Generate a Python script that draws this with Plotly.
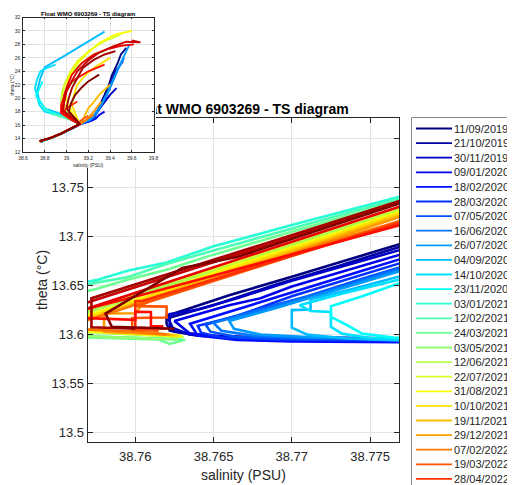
import plotly.graph_objects as go

# ---------------- data ----------------
DATES = ["11/09/2019", "21/10/2019", "30/11/2019", "09/01/2020", "18/02/2020",
         "28/03/2020", "07/05/2020", "16/06/2020", "26/07/2020", "04/09/2020",
         "14/10/2020", "23/11/2020", "03/01/2021", "12/02/2021", "24/03/2021",
         "03/05/2021", "12/06/2021", "22/07/2021", "31/08/2021", "10/10/2021",
         "19/11/2021", "29/12/2021", "07/02/2022", "19/03/2022", "28/04/2022",
         "07/06/2022", "17/07/2022", "26/08/2022", "05/10/2022", "14/11/2022"]

S_00 = [38.7805, 38.7740, 38.7680, 38.7640, 38.7622, 38.7620, 38.7620, 38.7660, 38.7700, 38.7740, 38.7800, 38.8450, 38.9480, 39.0520, 39.1250, 39.2000, 39.2400, 39.2800, 39.3200, 39.3500, 39.3900, 39.4200, 39.4700, 39.5000, 39.5500]
T_00 = [13.5925, 13.5935, 13.5955, 13.5990, 13.6040, 13.6110, 13.6190, 13.6400, 13.6590, 13.6790, 13.7105, 14.0200, 14.7000, 15.5000, 16.2000, 16.8000, 17.2000, 18.0000, 19.3000, 20.5000, 22.0000, 23.5000, 25.2000, 26.5000, 27.5000]
S_01 = [38.7810, 38.7750, 38.7700, 38.7650, 38.7625, 38.7621, 38.7650, 38.7690, 38.7730, 38.7770, 38.7810, 38.8480, 38.9500, 39.0500, 39.1280, 39.2200, 39.2600, 39.3000, 39.3500, 39.3800, 39.4200, 39.4500, 39.5200]
T_01 = [13.5940, 13.5950, 13.5960, 13.5985, 13.6030, 13.6170, 13.6300, 13.6510, 13.6700, 13.6900, 13.7100, 14.0300, 14.7100, 15.4900, 16.2200, 16.9000, 17.6000, 18.5000, 19.6000, 21.0000, 22.8000, 24.0000, 25.5000]
S_02 = [38.7800, 38.7720, 38.7670, 38.7635, 38.7622, 38.7622, 38.7640, 38.7665, 38.7700, 38.7740, 38.7800, 38.8460, 38.9470, 39.0480, 39.1300, 39.2300, 39.2700, 39.3200, 39.3700, 39.4000, 39.4600]
T_02 = [13.5960, 13.5965, 13.5975, 13.6000, 13.6080, 13.6210, 13.6255, 13.6370, 13.6550, 13.6730, 13.6990, 14.0000, 14.6800, 15.4700, 16.2300, 16.8000, 17.7000, 18.8000, 19.8000, 20.5000, 21.5000]
S_03 = [38.7815, 38.7760, 38.7700, 38.7660, 38.7635, 38.7625, 38.7660, 38.7680, 38.7700, 38.7740, 38.7800, 38.8470, 38.9490, 39.0510, 39.1320, 39.2400, 39.2700, 39.3000, 39.3500]
T_03 = [13.5930, 13.5930, 13.5945, 13.5965, 13.6010, 13.6140, 13.6300, 13.6370, 13.6490, 13.6680, 13.6960, 14.0100, 14.6900, 15.4800, 16.2000, 16.7000, 17.0000, 17.5000, 18.0000]
S_04 = [38.7810, 38.7750, 38.7700, 38.7665, 38.7640, 38.7635, 38.7670, 38.7710, 38.7745, 38.7800, 38.8490, 38.9500, 39.0500, 39.1300, 39.2200, 39.2500, 39.2800]
T_04 = [13.5920, 13.5925, 13.5930, 13.5945, 13.5990, 13.6110, 13.6280, 13.6480, 13.6650, 13.6920, 14.0300, 14.7000, 15.4800, 16.1800, 16.6000, 17.0000, 17.2000]
S_05 = [38.7800, 38.7740, 38.7690, 38.7655, 38.7642, 38.7640, 38.7665, 38.7700, 38.7740, 38.7800, 38.8480, 38.9510, 39.0490, 39.1250, 39.2000, 39.2200, 39.2400]
T_05 = [13.5935, 13.5940, 13.5950, 13.5970, 13.6020, 13.6090, 13.6190, 13.6390, 13.6580, 13.6880, 14.0200, 14.7100, 15.4900, 16.1500, 16.5000, 16.9000, 17.1000]
S_06 = [38.7805, 38.7750, 38.7700, 38.7665, 38.7648, 38.7645, 38.7675, 38.7710, 38.7745, 38.7805, 38.8470, 38.9490, 39.0510, 39.1280, 39.2200, 39.2500, 39.2800, 39.3100, 39.3400, 39.4000]
T_06 = [13.5945, 13.5950, 13.5955, 13.5975, 13.6030, 13.6100, 13.6240, 13.6390, 13.6570, 13.6855, 14.0100, 14.7000, 15.5000, 16.2100, 16.8000, 17.1000, 17.8000, 18.6000, 19.5000, 21.5000]
S_07 = [38.7810, 38.7760, 38.7710, 38.7675, 38.7655, 38.7650, 38.7685, 38.7720, 38.7750, 38.7810, 38.8460, 38.9480, 39.0500, 39.1300, 39.2300, 39.2600, 39.3000, 39.3600, 39.4000, 39.4400, 39.4800, 39.5300]
T_07 = [13.5950, 13.5955, 13.5965, 13.5990, 13.6040, 13.6120, 13.6270, 13.6430, 13.6570, 13.6840, 14.0000, 14.6900, 15.4800, 16.2300, 16.9000, 17.5000, 18.5000, 20.2000, 21.5000, 23.0000, 24.5000, 26.0000]
S_08 = [38.7800, 38.7750, 38.7710, 38.7680, 38.7663, 38.7660, 38.7690, 38.7725, 38.7755, 38.7810, 38.8470, 38.9500, 39.0520, 39.1310, 39.2200, 39.2700, 39.3200, 39.3700, 39.4200, 39.4700, 39.5200, 39.5800]
T_08 = [13.5955, 13.5960, 13.5975, 13.6000, 13.6060, 13.6140, 13.6270, 13.6430, 13.6560, 13.6800, 14.0000, 14.7000, 15.5100, 16.2200, 16.8000, 17.8000, 19.0000, 20.6000, 22.5000, 24.3000, 26.0000, 28.0000]
S_09 = [38.7810, 38.7770, 38.7735, 38.7710, 38.7700, 38.7700, 38.7712, 38.7712, 38.7740, 38.7770, 38.7810, 38.8500, 38.9500, 39.0450, 39.1100, 39.1000, 38.9500, 38.8000, 38.7500, 38.7300, 38.7600, 38.8000, 38.9500, 39.1000, 39.3500]
T_09 = [13.5935, 13.5940, 13.5960, 13.6000, 13.6070, 13.6250, 13.6255, 13.6360, 13.6470, 13.6590, 13.6770, 14.0200, 14.6800, 15.4500, 16.1000, 16.8000, 17.6000, 18.5000, 19.6000, 21.0000, 23.0000, 24.6000, 26.0000, 27.5000, 29.9000]
S_10 = [38.7815, 38.7780, 38.7750, 38.7732, 38.7725, 38.7725, 38.7712, 38.7705, 38.7730, 38.7770, 38.7815, 38.8520, 38.9520, 39.0480, 39.1150, 39.0500, 38.9000, 38.8000, 38.7500, 38.7100, 38.7300, 38.7600, 38.8200, 38.9000]
T_10 = [13.5945, 13.5950, 13.5965, 13.6010, 13.6080, 13.6230, 13.6240, 13.6300, 13.6410, 13.6560, 13.6740, 14.0300, 14.6900, 15.4600, 16.1200, 16.9000, 17.5000, 18.0000, 19.0000, 21.5000, 22.8000, 24.0000, 24.5000, 25.0000]
S_11 = [38.7820, 38.7790, 38.7765, 38.7745, 38.7735, 38.7725, 38.7725, 38.7745, 38.7770, 38.7820, 38.8510, 38.9510, 39.0500, 39.1150, 39.0500, 38.8800, 38.8000, 38.7600, 38.7200, 38.7400, 38.7800]
T_11 = [13.5950, 13.5955, 13.5970, 13.6010, 13.6100, 13.6180, 13.6290, 13.6390, 13.6530, 13.6720, 14.0100, 14.6800, 15.4700, 16.1300, 16.8000, 17.8000, 18.4000, 19.5000, 20.3000, 21.0000, 22.5000]
S_12 = [38.7630, 38.7600, 38.7565, 38.7545, 38.7555, 38.7575, 38.7595, 38.7620, 38.7650, 38.7700, 38.7750, 38.7800, 38.8500, 38.9500, 39.0500, 39.1200, 39.0500, 38.9200, 38.8600, 38.8200, 38.7800]
T_12 = [13.5950, 13.5965, 13.5985, 13.6250, 13.6500, 13.6555, 13.6650, 13.6735, 13.6900, 13.7116, 13.7326, 13.7536, 14.0800, 14.7300, 15.5000, 16.1500, 16.7000, 17.5000, 17.7000, 18.2000, 18.8000]
S_13 = [38.7628, 38.7610, 38.7570, 38.7550, 38.7552, 38.7575, 38.7595, 38.7620, 38.7650, 38.7700, 38.7750, 38.7800, 38.8490, 38.9490, 39.0500, 39.1200, 39.0800, 38.9500, 38.8800]
T_13 = [13.5955, 13.5960, 13.5980, 13.6100, 13.6440, 13.6530, 13.6585, 13.6720, 13.6858, 13.7082, 13.7302, 13.7522, 14.0700, 14.7200, 15.5100, 16.1500, 16.6000, 17.2000, 17.6000]
S_14 = [38.7632, 38.7622, 38.7615, 38.7600, 38.7560, 38.7550, 38.7555, 38.7575, 38.7595, 38.7620, 38.7650, 38.7700, 38.7750, 38.7800, 38.8500, 38.9500, 39.0480, 39.1200, 39.0800, 39.0000, 38.9500]
T_14 = [13.5948, 13.5905, 13.5950, 13.5958, 13.5975, 13.6100, 13.6390, 13.6465, 13.6560, 13.6660, 13.6815, 13.7048, 13.7278, 13.7508, 14.0700, 14.7200, 15.4900, 16.1600, 16.7000, 17.3000, 17.8000]
S_15 = [38.7628, 38.7600, 38.7555, 38.7550, 38.7610, 38.7660, 38.7720, 38.7800, 38.8500, 38.9500, 39.0500, 39.1200, 39.0700, 38.9800, 38.9500, 38.9700, 39.0000, 39.1000]
T_15 = [13.5952, 13.5968, 13.5990, 13.6135, 13.6450, 13.6713, 13.7028, 13.7448, 14.0700, 14.7200, 15.5000, 16.1500, 16.8000, 18.0000, 19.5000, 20.4000, 21.5000, 23.0000]
S_16 = [38.7631, 38.7600, 38.7555, 38.7550, 38.7610, 38.7660, 38.7720, 38.7800, 38.8510, 38.9510, 39.0510, 39.1210, 39.0600, 38.9700, 38.9500, 38.9600, 39.0000, 39.0500, 39.1500, 39.2500, 39.3500]
T_16 = [13.5975, 13.6000, 13.6035, 13.6120, 13.6435, 13.6698, 13.7013, 13.7433, 14.0700, 14.7200, 15.5000, 16.1500, 16.9000, 18.5000, 19.8000, 21.0000, 22.6000, 24.0000, 25.4000, 26.5000, 27.0000]
S_17 = [38.7629, 38.7600, 38.7555, 38.7550, 38.7610, 38.7660, 38.7720, 38.7800, 38.8490, 38.9490, 39.0490, 39.1190, 39.0700, 38.9800, 38.9600, 38.9800, 39.0300, 39.1000, 39.2200, 39.3500, 39.5000]
T_17 = [13.5980, 13.6010, 13.6045, 13.6156, 13.6475, 13.6720, 13.7045, 13.7456, 14.0700, 14.7200, 15.5000, 16.1500, 17.0000, 19.0000, 20.5000, 22.0000, 23.8000, 25.5000, 27.2000, 28.5000, 29.5000]
S_18 = [38.7630, 38.7600, 38.7555, 38.7550, 38.7610, 38.7660, 38.7720, 38.7800, 38.8500, 38.9500, 39.0500, 39.1200, 39.0800, 39.0000, 38.9900, 39.0200, 39.0800, 39.1800, 39.3000, 39.4500, 39.6000]
T_18 = [13.5985, 13.6015, 13.6050, 13.6094, 13.6405, 13.6684, 13.6990, 13.7419, 14.0700, 14.7200, 15.5000, 16.1500, 17.0000, 19.5000, 21.0000, 23.0000, 24.8000, 26.5000, 28.2000, 29.5000, 30.0000]
S_19 = [38.7628, 38.7600, 38.7555, 38.7550, 38.7610, 38.7660, 38.7720, 38.7800, 38.8510, 38.9510, 39.0500, 39.1250, 39.1000, 39.0500, 39.0700, 39.1000, 39.1700, 39.2500, 39.4000]
T_19 = [13.5990, 13.6020, 13.6055, 13.6074, 13.6393, 13.6665, 13.6975, 13.7405, 14.0700, 14.7200, 15.5000, 16.1800, 16.9000, 19.0000, 20.6000, 22.0000, 23.4000, 24.5000, 26.0000]
S_20 = [38.7625, 38.7600, 38.7555, 38.7550, 38.7610, 38.7660, 38.7720, 38.7800, 38.8490, 38.9490, 39.0490, 39.1300, 39.1500, 39.2000, 39.2500, 39.3000, 39.4000]
T_20 = [13.5995, 13.6025, 13.6060, 13.6054, 13.6373, 13.6645, 13.6955, 13.7385, 14.0700, 14.7200, 15.5000, 16.2000, 16.8000, 18.5000, 19.4000, 20.5000, 22.0000]
S_21 = [38.7622, 38.7580, 38.7580, 38.7600, 38.7604, 38.7610, 38.7660, 38.7720, 38.7800, 38.8500, 38.9500, 39.0500, 39.1300, 39.1800, 39.2500, 39.3200]
T_21 = [13.6000, 13.6030, 13.6215, 13.6218, 13.6300, 13.6349, 13.6617, 13.6938, 13.7366, 14.0700, 14.7200, 15.5000, 16.2000, 16.7000, 18.0000, 19.5000]
S_22 = [38.7620, 38.7600, 38.7555, 38.7550, 38.7610, 38.7660, 38.7720, 38.7800, 38.8510, 38.9510, 39.0510, 39.1300, 39.1500, 39.2000, 39.2500]
T_22 = [13.6002, 13.6030, 13.6062, 13.6047, 13.6356, 13.6620, 13.6923, 13.7335, 14.0700, 14.7200, 15.5000, 16.2000, 16.5000, 17.0000, 17.5000]
S_23 = [38.7615, 38.7598, 38.7598, 38.7620, 38.7620, 38.7600, 38.7650, 38.7710, 38.7770, 38.7810, 38.8500, 38.9500, 39.0500, 39.1200, 39.1200, 39.1500, 39.2000]
T_23 = [13.6040, 13.6050, 13.6170, 13.6175, 13.6285, 13.6290, 13.6546, 13.6853, 13.7160, 13.7365, 14.0700, 14.7200, 15.5000, 16.1500, 16.5000, 16.9000, 17.4000]
S_24 = [38.7620, 38.7600, 38.7600, 38.7605, 38.7650, 38.7710, 38.7770, 38.7810, 38.8490, 38.9490, 39.0490, 39.1200, 39.0500, 38.9700, 38.9800, 39.0000, 39.1000]
T_24 = [13.6060, 13.6070, 13.6340, 13.6345, 13.6562, 13.6851, 13.7140, 13.7333, 14.0700, 14.7200, 15.5000, 16.1500, 16.7000, 17.6000, 18.0000, 18.5000, 19.5000]
S_25 = [38.7618, 38.7610, 38.7610, 38.7600, 38.7600, 38.7565, 38.7555, 38.7560, 38.7610, 38.7660, 38.7720, 38.7770, 38.7810, 38.8500, 38.9500, 39.0500, 39.1200, 39.0500, 38.9500, 38.9500, 38.9700, 39.0000, 39.0500, 39.2000, 39.3500]
T_25 = [13.6085, 13.6088, 13.6230, 13.6232, 13.6150, 13.6170, 13.6200, 13.6225, 13.6428, 13.6645, 13.6905, 13.7120, 13.7293, 14.0700, 14.7200, 15.5000, 16.1500, 16.8000, 17.8000, 19.0000, 20.0000, 21.2000, 22.5000, 24.0000, 25.0000]
S_26 = [38.7545, 38.7540, 38.7550, 38.7610, 38.7660, 38.7720, 38.7800, 38.8500, 38.9500, 39.0500, 39.1200, 39.0600, 38.9600, 38.9700, 38.9800, 39.0100, 39.0500, 39.1400, 39.2500, 39.3800, 39.5000, 39.6200]
T_26 = [13.6000, 13.6100, 13.6166, 13.6478, 13.6738, 13.7050, 13.7466, 14.0700, 14.7200, 15.5000, 16.1500, 16.9000, 18.0000, 19.2000, 20.5000, 22.0000, 23.5000, 25.2000, 26.5000, 27.3000, 27.8000, 28.0000]
S_27 = [38.7540, 38.7545, 38.7550, 38.7610, 38.7660, 38.7720, 38.7800, 38.8500, 38.9500, 39.0500, 39.1200, 39.0700, 38.9700, 38.9800, 39.0000, 39.0500, 39.1000, 39.2000, 39.3000, 39.4300, 39.5500, 39.6800, 39.6000]
T_27 = [13.6050, 13.6180, 13.6228, 13.6534, 13.6789, 13.7095, 13.7503, 14.0700, 14.7200, 15.5000, 16.1500, 16.8000, 18.2000, 19.5000, 21.0000, 22.6000, 24.0000, 25.6000, 26.8000, 27.7000, 28.4000, 28.3000, 28.6000]
S_28 = [38.7600, 38.7572, 38.7572, 38.7610, 38.7660, 38.7720, 38.7800, 38.8500, 38.9500, 39.0500, 39.1200, 39.0800, 39.0000, 39.0200, 39.0500, 39.1000, 39.1500, 39.2500, 39.3500, 39.4500]
T_28 = [13.6060, 13.6075, 13.6370, 13.6560, 13.6810, 13.7115, 13.7520, 14.0700, 14.7200, 15.5000, 16.1500, 16.9000, 18.5000, 20.0000, 21.5000, 23.0000, 24.5000, 25.7000, 26.5000, 27.0000]
S_29 = [38.7625, 38.7585, 38.7581, 38.7630, 38.7665, 38.7734, 38.7800, 38.8500, 38.9500, 39.0500, 39.1200, 39.0900, 39.0200, 39.0400, 39.0800, 39.1400, 39.2000, 39.3000]
T_29 = [13.6060, 13.6080, 13.6215, 13.6680, 13.6790, 13.7155, 13.7500, 14.0700, 14.7200, 15.5000, 16.1500, 16.8000, 18.0000, 19.2000, 20.5000, 21.6000, 22.5000, 23.5000]

SALINITY = [S_00, S_01, S_02, S_03, S_04, S_05, S_06, S_07, S_08, S_09,
            S_10, S_11, S_12, S_13, S_14, S_15, S_16, S_17, S_18, S_19,
            S_20, S_21, S_22, S_23, S_24, S_25, S_26, S_27, S_28, S_29]
THETA = [T_00, T_01, T_02, T_03, T_04, T_05, T_06, T_07, T_08, T_09,
         T_10, T_11, T_12, T_13, T_14, T_15, T_16, T_17, T_18, T_19,
         T_20, T_21, T_22, T_23, T_24, T_25, T_26, T_27, T_28, T_29]

MAIN_XTICKS = [38.76, 38.765, 38.77, 38.775]
MAIN_XTICKTEXT = ["38.76", "38.765", "38.77", "38.775"]
MAIN_YTICKS = [13.5, 13.55, 13.6, 13.65, 13.7, 13.75, 13.8]
MAIN_YTICKTEXT = ["13.5", "13.55", "13.6", "13.65", "13.7", "13.75", "13.8"]
INSET_XTICKS = [38.6, 38.8, 39.0, 39.2, 39.4, 39.6, 39.8]
INSET_XTICKTEXT = ["38.6", "38.8", "39", "39.2", "39.4", "39.6", "39.8"]
INSET_YTICKS = [12, 14, 16, 18, 20, 22, 24, 26, 28, 30, 32]
INSET_YTICKTEXT = ["12", "14", "16", "18", "20", "22", "24", "26", "28", "30", "32"]

TITLE = "Float WMO 6903269 - TS diagram"

# ---------------- style ----------------
# the page body has an 8 px margin: the figure fills the rest of the window
OFF = 8
W, H = 515 - OFF, 485 - OFF
FONT = "Liberation Sans, Arial, sans-serif"
AX = "#262626"
GRID = "#e3e3e3"


def jet(v):
    def c(x):
        return max(0.0, min(1.0, x))
    r = c(1.5 - abs(4 * v - 3))
    g = c(1.5 - abs(4 * v - 2))
    b = c(1.5 - abs(4 * v - 1))
    return "rgb(%d,%d,%d)" % (round(r * 255), round(g * 255), round(b * 255))


N = len(DATES)
COLORS = [jet(i / (N - 1)) for i in range(N)]


def px(x):
    """window pixel x -> paper fraction"""
    return (x - OFF) / W


def py(y):
    """window pixel y -> paper fraction"""
    return 1 - (y - OFF) / H


fig = go.Figure()

for i in range(N):
    fig.add_trace(go.Scatter(x=SALINITY[i], y=THETA[i], mode="lines",
                             line=dict(color=COLORS[i], width=2.6),
                             xaxis="x", yaxis="y", name=DATES[i],
                             showlegend=False, hoverinfo="skip"))
for i in range(N):
    fig.add_trace(go.Scatter(x=SALINITY[i], y=THETA[i], mode="lines",
                             line=dict(color=COLORS[i], width=1.9),
                             xaxis="x4", yaxis="y4", name=DATES[i],
                             showlegend=False, hoverinfo="skip"))
# empty helpers for the title axis and the white inset backing
fig.add_trace(go.Scatter(x=[], y=[], xaxis="x2", yaxis="y", showlegend=False))
fig.add_trace(go.Scatter(x=[], y=[], xaxis="x3", yaxis="y3", showlegend=False))

xr = [38.75696, 38.77685]
common = dict(ticks="inside", ticklen=5, tickwidth=1, tickcolor=AX,
              showline=True, linecolor=AX, linewidth=1, mirror="ticks",
              showgrid=True, gridcolor=GRID, gridwidth=1, zeroline=False,
              tickfont=dict(family=FONT, size=13, color=AX))

TITLE_X = 38.76660  # title centre, slightly left of the axes centre

fig.update_layout(
    width=W, height=H,
    margin=dict(l=0, r=0, t=0, b=0, autoexpand=False),
    paper_bgcolor="white", plot_bgcolor="#ffffff",
    showlegend=False,
    xaxis=dict(domain=[px(87.7), px(399)], range=xr, anchor="y",
               tickmode="array", tickvals=MAIN_XTICKS, ticktext=MAIN_XTICKTEXT,
               ticklabelstandoff=3, **common),
    yaxis=dict(domain=[py(441.7), py(118.3)], range=[13.4909, 13.8204], anchor="x",
               tickmode="array", tickvals=MAIN_YTICKS, ticktext=MAIN_YTICKTEXT,
               ticklabelstandoff=0, **common),
    xaxis2=dict(overlaying="x", anchor="y", side="top", range=xr,
                tickmode="array", tickvals=[TITLE_X],
                ticktext=["<b>" + TITLE + "</b>"], ticks="", showgrid=False,
                showline=False, zeroline=False, ticklabelstandoff=1,
                tickfont=dict(family=FONT, size=14, color="#000000")),
    xaxis3=dict(domain=[0, px(156)], range=[0, 1], visible=False, anchor="y3"),
    yaxis3=dict(domain=[py(168), 1], range=[0, 1], visible=False, anchor="x3"),
    xaxis4=dict(domain=[px(23), px(153.5)], range=[38.6, 39.8], anchor="y4",
                tickmode="array", tickvals=INSET_XTICKS, ticktext=INSET_XTICKTEXT,
                ticks="inside", ticklen=2, tickwidth=0.6, tickcolor=AX,
                showline=True, linecolor=AX, linewidth=0.6, mirror="ticks",
                showgrid=True, gridcolor=GRID, gridwidth=0.6, zeroline=False,
                ticklabelstandoff=1,
                tickfont=dict(family=FONT, size=5, color=AX)),
    yaxis4=dict(domain=[py(152), py(17.5)], range=[12, 32], anchor="x4",
                tickmode="array", tickvals=INSET_YTICKS, ticktext=INSET_YTICKTEXT,
                ticks="inside", ticklen=2, tickwidth=0.6, tickcolor=AX,
                showline=True, linecolor=AX, linewidth=0.6, mirror="ticks",
                showgrid=True, gridcolor=GRID, gridwidth=0.6, zeroline=False,
                ticklabelstandoff=1,
                tickfont=dict(family=FONT, size=5, color=AX)),
)

ann = [
    dict(text="salinity (PSU)", x=px(243.4), y=py(475), xref="paper", yref="paper",
         showarrow=False, xanchor="center", yanchor="middle",
         font=dict(family=FONT, size=14, color=AX)),
    dict(text="theta (°C)", x=px(42), y=py(280), xref="paper", yref="paper",
         showarrow=False, xanchor="center", yanchor="middle", textangle=-90,
         font=dict(family=FONT, size=14, color=AX)),
    dict(text="<b>" + TITLE + "</b>", x=px(88.3), y=py(13.5), xref="paper", yref="paper",
         showarrow=False, xanchor="center", yanchor="middle",
         font=dict(family=FONT, size=6, color="#000000")),
    dict(text="theta (°C)", x=px(11.5), y=py(85), xref="paper", yref="paper",
         showarrow=False, xanchor="center", yanchor="middle", textangle=-90,
         font=dict(family=FONT, size=5, color=AX)),
    dict(text="salinity (PSU)", x=px(88.3), y=py(164.5), xref="paper", yref="paper",
         showarrow=False, xanchor="center", yanchor="middle",
         font=dict(family=FONT, size=5, color=AX)),
]

shapes = [dict(type="rect", xref="paper", yref="paper", layer="above",
               x0=px(411.5), x1=px(540), y0=py(117.5), y1=py(520),
               line=dict(color="#8a8a8a", width=1), fillcolor="rgba(0,0,0,0)")]

LEG_Y0, LEG_DY = 128.5, 14.6
for i in range(N):
    yk = LEG_Y0 + LEG_DY * i
    shapes.append(dict(type="line", xref="paper", yref="paper", layer="above",
                       x0=px(416), x1=px(452), y0=py(yk), y1=py(yk),
                       line=dict(color=COLORS[i], width=1.8)))
    ann.append(dict(text=DATES[i], x=px(451.5), y=py(yk), xref="paper", yref="paper",
                    showarrow=False, xanchor="left", yanchor="middle",
                    font=dict(family=FONT, size=11, color=AX)))

fig.update_layout(annotations=ann, shapes=shapes)
fig.write_html("out.html")
